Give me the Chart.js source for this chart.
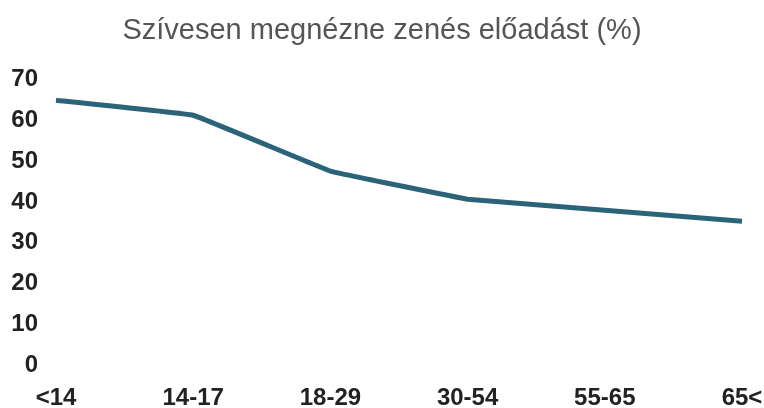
<!DOCTYPE html>
<html>
<head>
<meta charset="utf-8">
<script src="https://cdn.jsdelivr.net/npm/chart.js@4"></script>
<style>
html,body{margin:0;padding:0;background:#fff;}
#wrap{width:764px;height:408px;position:relative;}
</style>
</head>
<body>
<div id="wrap"><canvas id="c" width="764" height="408"></canvas></div>
<script>
const categories = ["<14", "14-17", "18-29", "30-54", "55-65", "65<"];
const values = [65, 61.3, 47.6, 40.7, 38.0, 35.3];
const yTicks = [0, 10, 20, 30, 40, 50, 60, 70];
const titleText = "Szívesen megnézne zenés előadást (%)";

const FONT = 'Liberation Sans, Arial, sans-serif';

new Chart(document.getElementById('c'), {
  type: 'line',
  data: {
    labels: categories,
    datasets: [{
      data: values,
      borderColor: '#2b6478',
      borderWidth: 5,
      pointRadius: 0,
      tension: 0.05,
      fill: false,
      borderJoinStyle: 'round',
      borderCapStyle: 'butt'
    }]
  },
  options: {
    responsive: false,
    animation: false,
    layout: { padding: { left: 0, right: 0, top: 14, bottom: 0 } },
    plugins: {
      legend: { display: false },
      tooltip: { enabled: false },
      title: {
        display: true,
        text: titleText,
        color: '#555555',
        font: { family: FONT, size: 29, weight: 'normal' },
        padding: { top: 0, bottom: 31 }
      }
    },
    scales: {
      x: {
        offset: false,
        grid: { display: false, drawTicks: false },
        border: { display: false },
        afterFit: (axis) => { axis.height = 43; axis.paddingRight = 22; axis.paddingLeft = 0; },
        ticks: {
          autoSkip: false,
          maxRotation: 0,
          padding: 18.5,
          color: '#222222',
          font: { family: FONT, size: 24, weight: 'bold' }
        }
      },
      y: {
        min: 0,
        max: 70,
        afterBuildTicks: (axis) => { axis.ticks = yTicks.map(v => ({ value: v })); },
        afterFit: (axis) => { axis.width = 56; },
        grid: { display: false, drawTicks: false },
        border: { display: false },
        ticks: {
          padding: 18,
          color: '#222222',
          font: { family: FONT, size: 24, weight: 'bold' }
        }
      }
    }
  }
});
</script>
</body>
</html>
